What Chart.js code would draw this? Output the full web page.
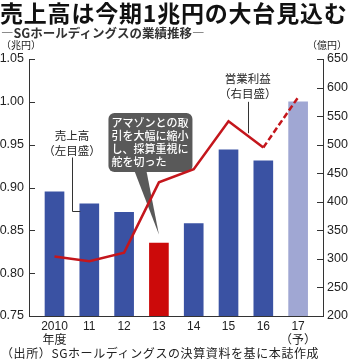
<!DOCTYPE html>
<html>
<head>
<meta charset="utf-8">
<script src="https://cdn.jsdelivr.net/npm/chart.js@4"></script>
<style>
  body { margin: 0; background: #fff; }
  #wrap { position: relative; width: 350px; height: 362px; font-family: "Noto Sans CJK JP", sans-serif; color: #222; }
  #wrap div { position: absolute; white-space: nowrap; }
  #title { left: 0; top: -1px; font-size: 23px; font-weight: bold; line-height: 26px; letter-spacing: 0.8px; color: #111; }
  #sub { left: 1px; top: 25px; font-size: 12.5px; font-weight: bold; line-height: 15px; color: #333; }
  #unitL { left: 1px; top: 39px; font-size: 10px; line-height: 12px; }
  #unitR { right: 3px; top: 39px; font-size: 10px; line-height: 12px; }
  #src { left: 1px; top: 345px; font-size: 12px; line-height: 15px; letter-spacing: 0.6px; }
  canvas { position: absolute; left: 0; top: 0; }
</style>
</head>
<body>
<div id="wrap">
  <canvas id="c" width="350" height="362"></canvas>
  <div id="title">売上高は今期1兆円の大台見込む</div>
  <div id="sub">―SGホールディングスの業績推移―</div>
  <div id="unitL">（兆円）</div>
  <div id="unitR">（億円）</div>
  <div id="src">（出所）SGホールディングスの決算資料を基に本誌作成</div>
</div>
<script>
var years = [["2010", "年度"], "11", "12", "13", "14", "15", "16", ["17", "（予）"]];
var sales = [0.895, 0.881, 0.871, 0.835, 0.858, 0.944, 0.931, 1.00];   // 兆円
var profit = [304, 296, 311, 434, 457, 541, 495, 583];                 // 億円
var barColors = ["#3a52a3", "#3a52a3", "#3a52a3", "#cc0a0a", "#3a52a3", "#3a52a3", "#3a52a3", "#a0a7d3"];
var leftTicks = [0.75, 1.05, 0.05];
var rightTicks = [200, 650, 50];

var sansNum = "'Liberation Sans', Arial, sans-serif";
var jp = "'Noto Sans CJK JP', sans-serif";

// inward tick marks + annotations
var extras = {
    id: 'extras',
    beforeDatasetsDraw(chart) {
        var ctx = chart.ctx, xs = chart.scales.x, ys = chart.scales.y;
        // callout box
        var bx = xs.getPixelForValue(1.55), by = ys.getPixelForValue(0.987);
        var bw = 84, bh = 59;
        ctx.save();
        ctx.fillStyle = '#595959';
        ctx.beginPath();
        ctx.roundRect(bx, by, bw, bh, 6);
        ctx.fill();
        var tipX = xs.getPixelForValue(3), tipY = ys.getPixelForValue(0.845);
        ctx.beginPath();
        ctx.moveTo(bx + 26, by + bh - 1);
        ctx.lineTo(bx + 38, by + bh - 1);
        ctx.lineTo(tipX, tipY);
        ctx.closePath();
        ctx.fill();
        ctx.fillStyle = '#fff';
        ctx.font = '500 11px ' + jp;
        ctx.textBaseline = 'middle';
        var lines = ['アマゾンとの取', '引を大幅に縮小', 'し、採算重視に', '舵を切った'];
        lines.forEach(function (t, i) { ctx.fillText(t, bx + 3, by + 10 + i * 13); });
        ctx.restore();
    },
    afterDraw(chart) {
        var ctx = chart.ctx, a = chart.chartArea;
        var xs = chart.scales.x, ys = chart.scales.y, y1 = chart.scales.y1;
        ctx.save();
        ctx.strokeStyle = '#333';
        ctx.lineWidth = 1;
        ctx.beginPath();
        ys.ticks.forEach(function (t) {
            var p = Math.round(ys.getPixelForValue(t.value)) + 0.5;
            ctx.moveTo(a.left, p); ctx.lineTo(a.left + 6, p);
        });
        y1.ticks.forEach(function (t) {
            var p = Math.round(y1.getPixelForValue(t.value)) + 0.5;
            ctx.moveTo(a.right - 6, p); ctx.lineTo(a.right, p);
        });
        ctx.stroke();

        // 売上高 label
        ctx.fillStyle = '#222';
        ctx.font = '11.5px ' + jp;
        ctx.textAlign = 'center';
        ctx.textBaseline = 'middle';
        var lx = xs.getPixelForValue(0.5);
        ctx.fillText('売上高', lx, ys.getPixelForValue(0.9605));
        ctx.fillText('（左目盛）', lx, ys.getPixelForValue(0.9425));
        ctx.beginPath();
        var ly = Math.round(ys.getPixelForValue(0.872)) + 0.5;
        ctx.moveTo(Math.round(lx) + 0.5, ys.getPixelForValue(0.935));
        ctx.lineTo(Math.round(lx) + 0.5, ly);
        ctx.lineTo(xs.getPixelForValue(1) - 9, ly);
        ctx.stroke();

        // 営業利益 label
        var rx = xs.getPixelForValue(5.55);
        ctx.fillText('営業利益', rx, y1.getPixelForValue(616));
        ctx.fillText('（右目盛）', rx, y1.getPixelForValue(590));
        ctx.beginPath();
        ctx.moveTo(Math.round(rx) + 0.5, y1.getPixelForValue(575));
        ctx.lineTo(Math.round(rx) + 0.5, y1.getPixelForValue(520));
        ctx.stroke();
        ctx.restore();
    }
};

new Chart(document.getElementById('c'), {
    data: {
        datasets: [
            {
                type: 'line',
                yAxisID: 'y1',
                order: 0,
                data: profit.map(function (v, i) { return { x: i, y: v }; }),
                borderColor: '#c4161c',
                borderWidth: 2.5,
                pointRadius: 0,
                tension: 0,
                segment: {
                    borderDash: function (s) { return s.p0DataIndex === 6 ? [6, 3] : undefined; }
                }
            },
            {
                type: 'bar',
                yAxisID: 'y',
                order: 1,
                data: sales.map(function (v, i) { return { x: i, y: v }; }),
                backgroundColor: barColors,
                barThickness: 19
            }
        ]
    },
    options: {
        responsive: false,
        animation: false,
        devicePixelRatio: 1,
        layout: { padding: { top: 59, left: 0, right: 0, bottom: 0 } },
        plugins: { legend: { display: false }, tooltip: { enabled: false } },
        scales: {
            x: {
                type: 'linear',
                offset: false,
                min: -0.733,
                max: 7.715,
                grid: { drawOnChartArea: false, drawTicks: false, offset: false },
                border: { color: '#333', width: 1 },
                ticks: {
                    stepSize: 1,
                    includeBounds: false,
                    autoSkip: false,
                    maxRotation: 0,
                    padding: 3,
                    color: '#222',
                    font: { size: 12, family: sansNum + ", " + jp, lineHeight: 1.2 },
                    callback: function (v) { return Number.isInteger(v) ? years[v] : ''; }
                },
                afterFit: function (s) { s.height = 46; }
            },
            y: {
                position: 'left',
                min: leftTicks[0],
                max: leftTicks[1],
                grid: { drawOnChartArea: false, drawTicks: false },
                border: { color: '#333', width: 1 },
                ticks: {
                    stepSize: leftTicks[2],
                    padding: 5,
                    color: '#222',
                    font: { size: 12.5, family: sansNum },
                    callback: function (v) { return v.toFixed(2); }
                },
                afterFit: function (s) { s.width = 29; }
            },
            y1: {
                position: 'right',
                min: rightTicks[0],
                max: rightTicks[1],
                grid: { drawOnChartArea: false, drawTicks: false },
                border: { color: '#333', width: 1 },
                ticks: {
                    stepSize: rightTicks[2],
                    padding: 4,
                    color: '#222',
                    font: { size: 12.5, family: sansNum }
                },
                afterFit: function (s) { s.width = 27; }
            }
        }
    },
    plugins: [extras]
});
</script>
</body>
</html>
